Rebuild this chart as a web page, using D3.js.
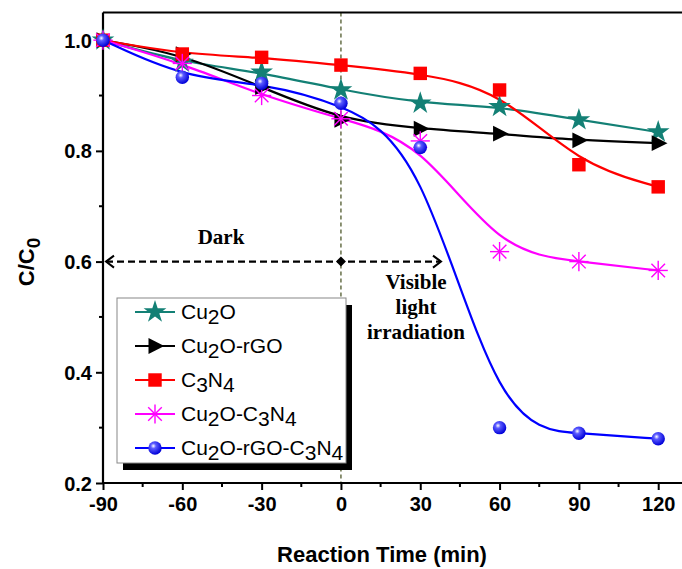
<!DOCTYPE html>
<html>
<head>
<meta charset="utf-8">
<script src="https://cdn.jsdelivr.net/npm/d3@7"></script>
<style>
  body { margin: 0; background: #fff; }
  text { font-family: "Liberation Sans", Arial, sans-serif; font-weight: bold; }
  .serif { font-family: "Liberation Serif", "Times New Roman", serif; }
  .legend-text { font-weight: normal; }
</style>
</head>
<body>
<div id="chart"></div>
<script>
var svgWidth = 682;
var svgHeight = 569;

// data
var times = [-90, -60, -30, 0, 30, 60, 90, 120];
var cu2o = [1.0, 0.960, 0.942, 0.910, 0.886, 0.880, 0.856, 0.834];
var cu2oRgo = [1.0, 0.975, 0.915, 0.856, 0.840, 0.831, 0.819, 0.814];
var c3n4 = [1.0, 0.975, 0.969, 0.955, 0.940, 0.910, 0.775, 0.735];
var cu2oC3n4 = [1.0, 0.958, 0.900, 0.858, 0.818, 0.618, 0.600, 0.584];
var cu2oRgoC3n4 = [1.0, 0.933, 0.922, 0.886, 0.806, 0.300, 0.290, 0.280];
var xTicks = [-90, -60, -30, 0, 30, 60, 90, 120];
var yTicks = [0.2, 0.4, 0.6, 0.8, 1.0];

var series = [
  { name: ["Cu", "2", "O"], values: cu2o, color: "#138075", marker: "star" },
  { name: ["Cu", "2", "O-rGO"], values: cu2oRgo, color: "#000000", marker: "tri" },
  { name: ["C", "3", "N", "4"], values: c3n4, color: "#ff0000", marker: "square" },
  { name: ["Cu", "2", "O-C", "3", "N", "4"], values: cu2oC3n4, color: "#ff00ff", marker: "aster" },
  { name: ["Cu", "2", "O-rGO-C", "3", "N", "4"], values: cu2oRgoC3n4, color: "#0000ff", marker: "ball" }
];

var svg = d3.select("#chart").append("svg")
  .attr("width", svgWidth)
  .attr("height", svgHeight);

var defs = svg.append("defs");
var grad = defs.append("radialGradient").attr("id", "ballGrad")
  .attr("cx", "0.38").attr("cy", "0.35").attr("r", "0.65");
grad.append("stop").attr("offset", "0").attr("stop-color", "#ffffff");
grad.append("stop").attr("offset", "0.3").attr("stop-color", "#5a5aff");
grad.append("stop").attr("offset", "1").attr("stop-color", "#0000d8");

var x = d3.scaleLinear().domain([-90, 129]).range([103, 682]);
var y = d3.scaleLinear().domain([0.2, 1.05]).range([483, 12.5]);

// dashed vertical at t = 0
svg.append("line")
  .attr("x1", x(0)).attr("x2", x(0))
  .attr("y1", y(1.05)).attr("y2", y(0.2))
  .attr("stroke", "#4f5a2c").attr("stroke-width", 1.3)
  .attr("stroke-dasharray", "4,3");

// axes
var bottomAxis = d3.axisBottom(x).tickValues(xTicks).tickSize(7).tickPadding(6)
  .tickFormat(d => String(d));
var leftAxis = d3.axisLeft(y).tickValues(yTicks).tickSize(7).tickPadding(4)
  .tickFormat(d3.format(".1f"));

var gx = svg.append("g").attr("transform", `translate(0, ${y(0.2)})`).call(bottomAxis);
var gy = svg.append("g").attr("transform", `translate(${x(-90)}, 0)`).call(leftAxis);
[gx, gy].forEach(g => {
  g.select(".domain").attr("stroke-width", 2.2);
  g.selectAll(".tick line").attr("stroke-width", 2);
  g.selectAll(".tick text").attr("font-size", 20).attr("font-weight", "bold")
    .attr("font-family", "Liberation Sans, Arial, sans-serif").attr("fill", "#000");
});
gx.selectAll(".tick text").attr("dy", "0.75em");
gy.selectAll(".tick text").attr("dy", "0.35em");
gx.select(".domain").attr("d", `M${x(-90)},0H${x(129)}`);
gy.select(".domain").attr("d", `M0,${y(1.05)}V${y(0.2)}`);

// minor ticks
svg.append("g").selectAll("line")
  .data([-75, -45, -15, 15, 45, 75, 105])
  .enter().append("line")
  .attr("x1", d => x(d)).attr("x2", d => x(d))
  .attr("y1", y(0.2)).attr("y2", y(0.2) + 4)
  .attr("stroke", "#000").attr("stroke-width", 2);
svg.append("g").selectAll("line")
  .data([0.3, 0.5, 0.7, 0.9])
  .enter().append("line")
  .attr("x1", x(-90) - 4).attr("x2", x(-90))
  .attr("y1", d => y(d)).attr("y2", d => y(d))
  .attr("stroke", "#000").attr("stroke-width", 2);

// top border
svg.append("line")
  .attr("x1", x(-90)).attr("x2", x(129))
  .attr("y1", y(1.05)).attr("y2", y(1.05))
  .attr("stroke", "#000").attr("stroke-width", 2.2);

// lines
var line = d3.line()
  .x((d, i) => x(times[i]))
  .y(d => y(d))
  .curve(d3.curveBasis);

series.forEach(s => {
  svg.append("path")
    .datum(s.values)
    .attr("d", line)
    .attr("fill", "none")
    .attr("stroke", s.color)
    .attr("stroke-width", 2.2);
});

function drawMarker(g, type, color, size) {
  if (type === "star") {
    g.append("path").attr("d", d3.symbol(d3.symbolStar, size * 10)())
      .attr("fill", color);
  } else if (type === "tri") {
    var r = size * 0.58;
    g.append("path").attr("d", `M${r},0L${-r * 0.7},${-r * 0.85}L${-r * 0.7},${r * 0.85}Z`)
      .attr("fill", color);
  } else if (type === "square") {
    var h = size * 0.42;
    g.append("rect").attr("x", -h).attr("y", -h).attr("width", 2 * h).attr("height", 2 * h)
      .attr("fill", color);
  } else if (type === "aster") {
    var a = size * 0.6;
    for (var k = 0; k < 4; k++) {
      var ang = k * Math.PI / 4;
      g.append("line")
        .attr("x1", -a * Math.cos(ang)).attr("y1", -a * Math.sin(ang))
        .attr("x2", a * Math.cos(ang)).attr("y2", a * Math.sin(ang))
        .attr("stroke", color).attr("stroke-width", 1.4);
    }
  } else if (type === "ball") {
    g.append("circle").attr("r", size * 0.42).attr("fill", "url(#ballGrad)");
  }
}

// markers
series.forEach(s => {
  svg.append("g").selectAll("g")
    .data(s.values)
    .enter().append("g")
    .attr("transform", (d, i) => `translate(${x(times[i])}, ${y(d)})`)
    .each(function() { drawMarker(d3.select(this), s.marker, s.color, 16); });
});

// dark / visible arrow
var arrowY = y(0.6);
svg.append("line")
  .attr("x1", x(-90) + 3).attr("x2", 441)
  .attr("y1", arrowY).attr("y2", arrowY)
  .attr("stroke", "#000").attr("stroke-width", 2.2)
  .attr("stroke-dasharray", "7,4");
svg.append("path")
  .attr("d", `M${x(-90) + 11},${arrowY - 6}L${x(-90) + 3},${arrowY}L${x(-90) + 11},${arrowY + 6}`)
  .attr("fill", "none").attr("stroke", "#000").attr("stroke-width", 2);
svg.append("path")
  .attr("d", `M433,${arrowY - 6}L441,${arrowY}L433,${arrowY + 6}`)
  .attr("fill", "none").attr("stroke", "#000").attr("stroke-width", 2);
svg.append("path")
  .attr("d", `M${x(0)},${arrowY - 5}L${x(0) + 5},${arrowY}L${x(0)},${arrowY + 5}L${x(0) - 5},${arrowY}Z`)
  .attr("fill", "#000");

svg.append("text").attr("class", "serif")
  .attr("x", 221).attr("y", 244).attr("text-anchor", "middle")
  .attr("font-size", 21).text("Dark");
["Visible", "light", "irradiation"].forEach((t, i) => {
  svg.append("text").attr("class", "serif")
    .attr("x", 416).attr("y", 289 + i * 25).attr("text-anchor", "middle")
    .attr("font-size", 21).text(t);
});

// legend
var legend = svg.append("g");
legend.append("rect")
  .attr("x", 123).attr("y", 305).attr("width", 229).attr("height", 165)
  .attr("fill", "#000");
legend.append("rect")
  .attr("x", 117).attr("y", 298).attr("width", 229).attr("height", 165)
  .attr("fill", "#fff").attr("stroke", "#888").attr("stroke-width", 1);

series.forEach((s, i) => {
  var ly = 312 + i * 34;
  legend.append("line")
    .attr("x1", 135).attr("x2", 175).attr("y1", ly).attr("y2", ly)
    .attr("stroke", s.color).attr("stroke-width", 2.2);
  drawMarker(legend.append("g").attr("transform", `translate(155, ${ly})`), s.marker, s.color, 16);
  var t = legend.append("text").attr("class", "legend-text")
    .attr("x", 181).attr("y", ly + 7).attr("font-size", 21);
  var sub = false;
  s.name.forEach((part, j) => {
    var isSub = /^\d$/.test(part);
    var ts = t.append("tspan").text(part);
    if (isSub && !sub) ts.attr("dy", 5);
    if (!isSub && sub) ts.attr("dy", -5);
    sub = isSub;
  });
});

// axis titles
svg.append("text")
  .attr("transform", `translate(34, 262) rotate(-90)`)
  .attr("text-anchor", "middle").attr("font-size", 22)
  .call(t => {
    t.append("tspan").text("C/C");
    t.append("tspan").attr("dy", 6).attr("font-size", 19).text("0");
  });
svg.append("text")
  .attr("x", 382).attr("y", 562).attr("text-anchor", "middle")
  .attr("font-size", 22).text("Reaction Time (min)");
</script>
</body>
</html>
